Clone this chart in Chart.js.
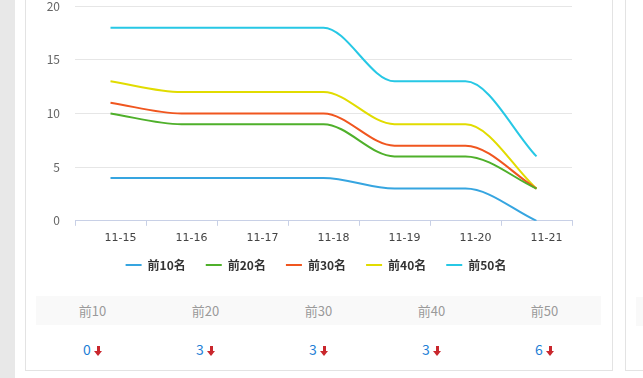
<!DOCTYPE html>
<html>
<head>
<meta charset="utf-8">
<script src="https://cdn.jsdelivr.net/npm/chart.js@4.4.1/dist/chart.umd.min.js"></script>
<style>
  html, body { margin: 0; padding: 0; background: #fff; }
  body { width: 643px; height: 378px; position: relative; overflow: hidden;
         font-family: "Noto Sans CJK SC", "Microsoft YaHei", sans-serif; }
  .side { position: absolute; left: 0; top: 0; width: 15px; height: 378px; background: #e8e8e8; }
  .card { position: absolute; left: 25px; top: -20px; width: 586px; height: 389px;
          border: 1px solid #e3e3e3; background: #fff; }
  .card2 { position: absolute; left: 625px; top: -20px; width: 100px; height: 389px;
           border: 1px solid #e3e3e3; background: #fff; }
  .card2 .band { position: absolute; left: 10px; top: 316px; width: 100px; height: 29px; background: #f9f9f9; }
  #wrap { position: absolute; left: 26px; top: -16px; width: 586px; height: 309px; }
  table { position: absolute; left: 36px; top: 296px; width: 565px; border-collapse: collapse; table-layout: fixed; }
  th { height: 29px; background: #f9f9f9; color: #9a9a9a; font-weight: normal; font-size: 13px; padding: 0; }
  td { height: 47px; text-align: center; font-size: 14px; color: #1f7fd6; padding: 0; }
  .down { display: inline-block; position: relative; width: 8px; height: 10px; margin-left: 3px; vertical-align: -1px; }
  .down:before { content: ""; position: absolute; left: 3px; top: 0; width: 3px; height: 5px; background: #c9272d; }
  .down:after { content: ""; position: absolute; left: 0; top: 5px; width: 0; height: 0;
                border-left: 4.5px solid transparent; border-right: 4.5px solid transparent; border-top: 5px solid #c9272d; }
</style>
</head>
<body>
<div class="side"></div>
<div class="card"></div>
<div class="card2"><div class="band"></div></div>
<div id="wrap"><canvas id="LineChart" width="586" height="309"></canvas></div>
<table id="tbl"><thead><tr id="head"></tr></thead><tbody><tr id="vals"></tr></tbody></table>
<script>
var dates = ["11-15", "11-16", "11-17", "11-18", "11-19", "11-20", "11-21"];
var seriesNames = ["前10名", "前20名", "前30名", "前40名", "前50名"];
var top10 = [4, 4, 4, 4, 3, 3, 0];
var top20 = [10, 9, 9, 9, 6, 6, 3];
var top30 = [11, 10, 10, 10, 7, 7, 3];
var top40 = [13, 12, 12, 12, 9, 9, 3];
var top50 = [18, 18, 18, 18, 13, 13, 6];
var tableHeads = ["前10", "前20", "前30", "前40", "前50"];
var colors = ['#36a5e0', '#4fb02b', '#f0561f', '#e1dc00', '#27c8e5'];

var allSeries = [top10, top20, top30, top40, top50];

var datasets = [];
for (var i = 0; i < allSeries.length; i++) {
    datasets.push({
        label: seriesNames[i],
        data: allSeries[i],
        borderColor: colors[i],
        backgroundColor: colors[i],
        borderWidth: 2,
        pointRadius: 0,
        pointHoverRadius: 0,
        pointStyle: 'line',
        cubicInterpolationMode: 'monotone',
        fill: false
    });
}

// pull the legend a little closer to the axis labels
var legendShift = {
    id: 'legendShift',
    afterLayout: function (chart) {
        var lg = chart.legend;
        lg.top -= 12;
        lg.bottom -= 12;
        lg.left -= 3;
        lg.right -= 3;
    }
};

var ctx = document.getElementById('LineChart');
var chart = new Chart(ctx, {
    type: 'line',
    data: {
        labels: dates,
        datasets: datasets
    },
    plugins: [legendShift],
    options: {
        responsive: false,
        animation: false,
        layout: {
            padding: 0
        },
        plugins: {
            tooltip: { enabled: false },
            legend: {
                position: 'bottom',
                labels: {
                    usePointStyle: true,
                    pointStyleWidth: 16,
                    padding: 20,
                    color: '#333',
                    font: { size: 12, weight: 'bold', family: '"Noto Sans CJK SC", sans-serif' }
                }
            }
        },
        scales: {
            x: {
                offset: true,
                grid: {
                    offset: true,
                    drawOnChartArea: false,
                    drawTicks: true,
                    tickLength: 5,
                    color: '#c8d0e6'
                },
                border: { color: '#c8d0e6' },
                ticks: {
                    color: '#444',
                    labelOffset: 10,
                    padding: 6,
                    maxRotation: 0,
                    font: { size: 11, family: '"DejaVu Sans", sans-serif' }
                }
            },
            y: {
                min: 0,
                max: 20,
                afterFit: function (scale) { scale.width = 49; },
                grid: { color: '#e6e6e6', drawTicks: false },
                border: { display: false },
                ticks: {
                    stepSize: 5,
                    padding: 15,
                    color: '#666',
                    font: { size: 12, family: '"Noto Sans CJK SC", sans-serif' }
                }
            },
            // empty right-hand gutter so the legend centres on the whole card
            yRight: {
                position: 'right',
                min: 0,
                max: 20,
                afterFit: function (scale) { scale.width = 40; },
                grid: { display: false },
                border: { display: false },
                ticks: { display: false }
            }
        }
    }
});

var head = document.getElementById('head');
var vals = document.getElementById('vals');
for (var j = 0; j < tableHeads.length; j++) {
    var th = document.createElement('th');
    th.textContent = tableHeads[j];
    head.appendChild(th);
    var td = document.createElement('td');
    var s = allSeries[j];
    td.innerHTML = s[s.length - 1] + '<span class="down"></span>';
    vals.appendChild(td);
}
</script>
</body>
</html>
